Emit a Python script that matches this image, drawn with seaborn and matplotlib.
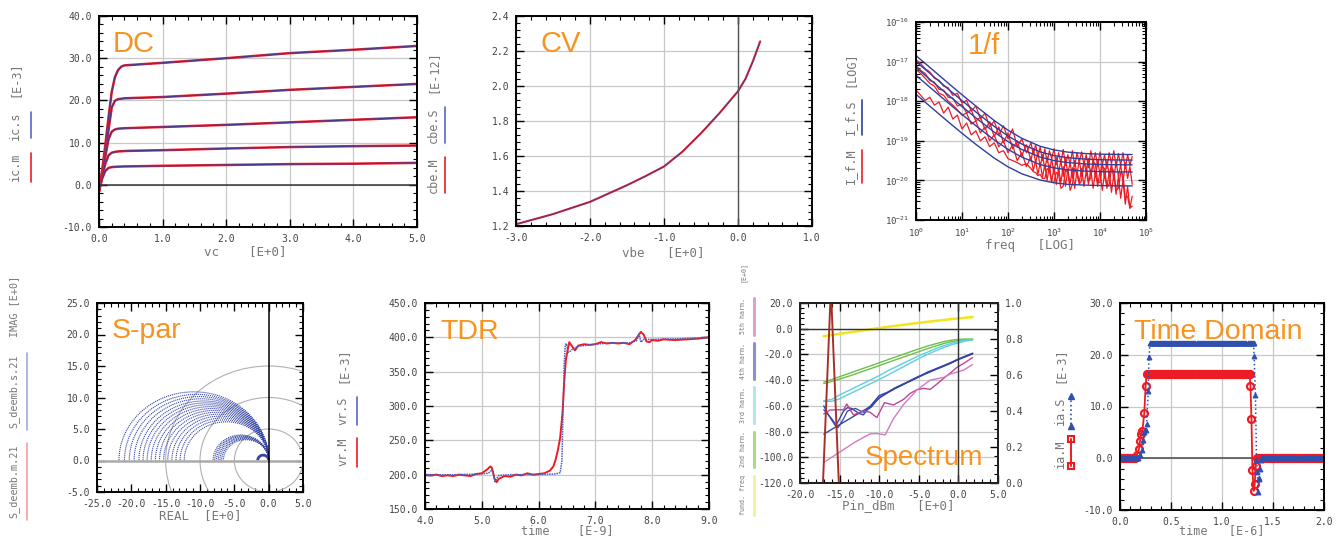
import numpy as np
import matplotlib
matplotlib.use('Agg')
import matplotlib.pyplot as plt
import seaborn as sns
from matplotlib.lines import Line2D
from matplotlib.patches import Arc, Circle
from matplotlib.ticker import MultipleLocator, FormatStrFormatter, LogLocator, LogFormatterSciNotation, NullFormatter

sns.set_theme(style='white')
plt.rcParams['font.family'] = ['DejaVu Sans Mono']
plt.rcParams['mathtext.fontset'] = 'custom'
plt.rcParams['mathtext.rm'] = 'DejaVu Sans Mono'
plt.rcParams['mathtext.default'] = 'regular'

# ---------------- data ----------------
# DC: ic vs vc, five base currents (measured ~ simulated)
vc = [0.0, 0.05, 0.1, 0.15, 0.2, 0.25, 0.3, 0.35, 0.4, 0.5, 1.0, 2.0, 3.0, 4.0, 5.0]
ic_1 = [-1.5, 3.5, 9.5, 16.0, 22.0, 25.5, 27.2, 28.0, 28.3, 28.4, 28.9, 30.0, 31.2, 32.0, 32.9]
ic_2 = [-1.5, 2.8, 7.5, 13.0, 18.3, 19.9, 20.3, 20.4, 20.5, 20.55, 20.8, 21.6, 22.5, 23.2, 23.9]
ic_3 = [-1.5, 2.5, 6.8, 10.8, 12.6, 13.1, 13.3, 13.35, 13.4, 13.45, 13.7, 14.2, 14.8, 15.4, 16.0]
ic_4 = [-1.5, 2.0, 5.0, 7.0, 7.6, 7.8, 7.9, 7.95, 8.0, 8.05, 8.2, 8.6, 8.95, 9.15, 9.3]
ic_5 = [-1.5, 1.5, 3.3, 4.0, 4.2, 4.25, 4.3, 4.32, 4.35, 4.37, 4.5, 4.7, 4.9, 5.0, 5.2]

# CV
vbe = [-3.0, -2.5, -2.0, -1.5, -1.25, -1.0, -0.75, -0.5, -0.25, 0.0, 0.1, 0.2, 0.3]
cbe = [1.21, 1.268, 1.338, 1.433, 1.485, 1.54, 1.625, 1.73, 1.845, 1.97, 2.04, 2.14, 2.255]

# 1/f noise, values are log10 of the noise density
f_fit = [1, 2, 5, 10, 20, 50, 100, 200, 500, 1e3, 2e3, 5e3, 1e4, 2e4, 5e4]
sim_1 = [-16.849, -17.147, -17.543, -17.837, -18.123, -18.486, -18.731, -18.938, -19.138, -19.231, -19.286, -19.323, -19.337, -19.343, -19.347]
sim_2 = [-16.999, -17.297, -17.693, -17.986, -18.272, -18.634, -18.878, -19.083, -19.28, -19.373, -19.428, -19.464, -19.477, -19.483, -19.487]
sim_3 = [-17.148, -17.447, -17.842, -18.135, -18.42, -18.78, -19.02, -19.22, -19.41, -19.50, -19.55, -19.585, -19.598, -19.604, -19.608]
sim_4 = [-17.348, -17.647, -18.042, -18.334, -18.619, -18.977, -19.216, -19.413, -19.60, -19.684, -19.734, -19.767, -19.778, -19.784, -19.788]
sim_5 = [-17.828, -18.126, -18.52, -18.81, -19.09, -19.435, -19.657, -19.834, -19.99, -20.06, -20.10, -20.12, -20.13, -20.136, -20.14]

lf_lo = [0.0, 0.1, 0.2, 0.3, 0.4, 0.5, 0.6, 0.7, 0.8, 0.9, 1.0, 1.1, 1.2, 1.3, 1.4, 1.5,
         1.6, 1.7, 1.8, 1.9, 2.0, 2.1, 2.2, 2.3, 2.4]
lf_hi = [2.5, 2.55, 2.6, 2.65, 2.7, 2.75, 2.8, 2.85, 2.9, 2.95, 3.0, 3.05, 3.1, 3.15, 3.2,
         3.25, 3.3, 3.35, 3.4, 3.45, 3.5, 3.55, 3.6, 3.65, 3.7, 3.75, 3.8, 3.85, 3.9, 3.95,
         4.0, 4.05, 4.1, 4.15, 4.2, 4.25, 4.3, 4.35, 4.4, 4.45, 4.5, 4.55, 4.6, 4.65, 4.7]
meas_1 = [-16.95, -17.05, -17.18, -17.26, -17.42, -17.47, -17.62, -17.66, -17.85, -17.80, -18.05, -17.98,
          -18.25, -18.12, -18.45, -18.30, -18.65, -18.50, -18.85, -18.62, -18.95, -18.70, -19.15, -18.95,
          -19.30,
          -19.05, -19.35, -19.10, -19.40, -19.15, -19.50, -19.20, -19.55, -19.25, -19.45, -19.20, -19.60,
          -19.30, -19.55, -19.22, -19.62, -19.35, -19.58, -19.25, -19.65, -19.30, -19.55, -19.28, -19.60,
          -19.35, -19.68, -19.25, -19.55, -19.30, -19.65, -19.28, -19.60, -19.35, -19.70, -19.30, -19.58,
          -19.25, -19.66, -19.32, -19.62, -19.30, -19.70, -19.35, -19.62, -19.40]
meas_2 = [-17.10, -17.22, -17.30, -17.48, -17.52, -17.70, -17.72, -17.90, -17.92, -18.12, -18.08, -18.30,
          -18.22, -18.50, -18.40, -18.72, -18.52, -18.90, -18.65, -19.05, -18.80, -19.20, -19.00, -19.38,
          -19.10,
          -19.50, -19.20, -19.55, -19.30, -19.65, -19.35, -19.72, -19.40, -19.78, -19.45, -19.85, -19.42,
          -19.80, -19.50, -19.90, -19.45, -19.82, -19.55, -19.95, -19.50, -19.85, -19.48, -19.90, -19.52,
          -19.80, -19.45, -19.88, -19.55, -19.92, -19.50, -19.85, -19.55, -19.95, -19.50, -19.88, -19.58,
          -19.98, -19.52, -19.90, -19.60, -20.05, -19.55, -19.95, -19.65, -20.10]
meas_3 = [-17.20, -17.30, -17.42, -17.55, -17.62, -17.80, -17.85, -18.00, -18.10, -18.22, -18.35, -18.30,
          -18.58, -18.50, -18.80, -18.65, -19.00, -18.85, -19.15, -19.00, -19.30, -19.10, -19.50, -19.30,
          -19.65,
          -19.40, -19.75, -19.50, -19.85, -19.55, -19.92, -19.60, -20.00, -19.62, -20.05, -19.65, -20.10,
          -19.70, -20.05, -19.65, -20.15, -19.72, -20.10, -19.68, -20.20, -19.75, -20.05, -19.70, -20.15,
          -19.78, -20.10, -19.72, -20.20, -19.80, -20.15, -19.75, -20.25, -19.82, -20.20, -19.78, -20.30,
          -19.85, -20.35, -19.90, -20.45, -20.00, -20.60, -20.15, -20.70, -20.40]
meas_4 = [-17.72, -17.85, -17.98, -17.90, -18.10, -18.02, -18.30, -18.15, -18.45, -18.35, -18.70, -18.55,
          -18.85, -18.75, -19.00, -18.90, -19.15, -19.05, -19.30, -19.25, -19.45, -19.50, -19.55, -19.62,
          -19.58,
          -19.70, -19.78, -19.80, -19.88, -19.85, -19.95, -19.95, -19.70, -19.75, -20.05, -20.05, -19.80,
          -19.85, -20.20, -20.15, -19.75, -19.80, -20.25, -20.10, -19.70, -19.85, -20.10, -20.00, -19.55,
          -19.65, -20.00, -19.95, -19.50, -19.60, -20.05, -20.05, -19.65, -19.70, -20.15, -20.10, -19.70,
          -19.75, -20.25, -20.20, -19.80, -19.85, -20.45, -20.40, -20.70, -20.65]

# S-par: S21 loci (diameters of the half circles) and gain circles
s21_big = [21.8, 21.0, 20.3, 19.6, 18.9, 18.3, 17.7, 17.1, 16.5, 15.9, 15.3, 14.7, 14.1, 13.5, 12.9, 12.3]
s21_small = [8.1, 7.85, 7.6, 7.35, 7.1, 6.85, 6.6]
s21_loop = 1.6
gain_radii = [5, 10, 15]

# TDR
t_m = [4.0, 4.1, 4.2, 4.3, 4.4, 4.5, 4.6, 4.7, 4.8, 4.9, 5.0, 5.05, 5.1, 5.15, 5.18, 5.22, 5.26, 5.3,
       5.4, 5.5, 5.6, 5.7, 5.8, 5.9, 6.0, 6.1, 6.2, 6.26, 6.3, 6.34, 6.38, 6.42, 6.45, 6.48, 6.51,
       6.54, 6.58, 6.64, 6.7, 6.8, 6.9, 7.0, 7.1, 7.2, 7.3, 7.4, 7.5, 7.6, 7.7, 7.75, 7.8, 7.85, 7.9,
       7.95, 8.0, 8.1, 8.2, 8.4, 8.6, 8.8, 9.0]
vr_m = [200, 199, 200, 198, 199, 198, 200, 199, 198, 201, 202, 205, 208, 212, 210, 195, 189, 194,
        198, 197, 200, 199, 202, 200, 201, 202, 206, 212, 222, 236, 254, 289, 333, 367, 381,
        393, 388, 381, 388, 390, 389, 390, 393, 391, 392, 391, 392, 390, 396, 402, 408, 404, 394,
        393, 396, 395, 397, 396, 397, 398, 400]
t_s = [4.0, 4.5, 5.0, 5.1, 5.15, 5.18, 5.2, 5.23, 5.3, 5.5, 6.0, 6.3, 6.38, 6.41, 6.43, 6.45, 6.47,
       6.49, 6.52, 6.56, 6.6, 6.7, 6.8, 7.0, 7.3, 7.6, 7.72, 7.75, 7.77, 7.8, 7.85, 8.0, 8.5, 9.0]
vr_s = [200, 200, 201, 202, 204, 208, 203, 190, 199, 200, 200, 201, 203, 220, 290, 360, 389,
        391, 378, 380, 383, 387, 388, 390, 392, 392, 395, 400, 405, 393, 397, 397, 398, 400]

# Spectrum
pin = [-17, -16, -15, -14, -13, -12, -11, -10, -9, -8, -7, -6, -5, -4, -3, -2, -1, 0, 1, 1.8]
fund = [-5.8, -4.9, -4.0, -3.1, -2.2, -1.3, -0.4, 0.5, 1.4, 2.2, 3.0, 3.8, 4.6, 5.3, 6.0, 6.7, 7.4, 8.0, 8.6, 9.1]
h2_a = [-41.5, -39.5, -37.3, -35.2, -33.0, -30.8, -28.7, -26.5, -24.3, -22.1, -20.0, -17.8, -15.7, -13.7, -11.9, -10.3, -9.0, -8.3, -8.0, -8.0]
h2_b = [-42.7, -41.0, -39.1, -37.2, -35.2, -33.0, -30.9, -28.7, -26.5, -24.3, -22.2, -20.0, -17.9, -15.7, -13.7, -11.8, -10.2, -9.2, -8.7, -8.6]
h3_a = [-56.0, -55.0, -51.5, -48.5, -45.5, -42.5, -39.5, -36.5, -33.0, -30.0, -27.0, -24.0, -21.0, -18.5, -15.8, -13.5, -11.6, -10.0, -8.8, -8.2]
h3_b = [-56.5, -56.5, -54.5, -51.5, -48.5, -45.5, -42.5, -39.5, -36.3, -33.0, -29.8, -26.5, -23.2, -20.2, -17.5, -15.0, -12.8, -11.0, -9.5, -8.6]
h4_s = [-82.0, -78.3, -74.6, -71.0, -67.3, -63.7, -60.0, -54.0, -50.0, -46.5, -43.5, -40.0, -37.0, -34.5, -32.0, -29.5, -27.0, -24.0, -21.5, -19.3]
pin_h4a = [-17, -16.5, -16, -15.5, -15, -14.5, -14, -13.5, -13, -12.5, -12, -11.5, -11, -10, -9, -8, -7, -6, -5, -4, -3, -2, -1, 0, 1, 1.8]
h4_a = [-60, -66, -71, -75.6, -70, -64, -61.4, -62, -64, -66, -67, -63, -59.3, -52, -49.5, -46, -43, -40.5, -37.5, -34, -31.5, -29, -26.5, -23.5, -21, -19.0]
pin_h4b = [-17, -16, -15.2, -14.5, -14, -13, -12, -11, -10, -9, -8, -7, -6, -5, -4, -3, -2, -1, 0, 1, 1.8]
h4_b = [-63, -70, -77, -70, -64, -62, -65, -61, -53.5, -50, -46.5, -43.5, -40.5, -37.5, -34.8, -32, -29.5, -26.5, -23.8, -21.5, -19.6]
pin_h5a = [-17, -16.2, -14.5, -14.1, -13.25, -12, -11.15, -10.3, -9.33, -8.2, -6.93, -6.09, -5.25, -4.4, -3.56, -2.7, -1.87, -1.03, -0.19, 0.66, 1.8]
h5_a = [-66.3, -63.2, -63.0, -58.5, -67.1, -64.0, -65.0, -69.1, -57.5, -59.3, -55.0, -50.3, -47.5, -46.4, -47.2, -43.0, -38.6, -34.5, -30.1, -27.0, -22.4]
pin_h5b = [-17, -15, -13, -11.15, -10.3, -9.25, -8.2, -6.93, -5.25, -3.56, -1.87, -1.03, 0.66, 1.8]
h5_b = [-104, -96, -88, -81.8, -81.5, -82.6, -70, -59, -47.7, -40, -37.9, -35.3, -32.2, -27.8]
pin_pk = [-17.1, -16.1, -15.1, 1.8]
pk = [0.0, 1.08, 0.0, 0.0]

# Time domain current pulse
ia_base = 0.0
ia_top_m = 16.3
ia_top_s = 22.2
rise_t_m = [0.163, 0.186, 0.196, 0.206, 0.219, 0.238, 0.251, 0.261]
rise_m = [0.6, 1.7, 3.3, 4.7, 5.2, 8.7, 14.0, 16.2]
fall_t_m = [1.279, 1.289, 1.298, 1.311, 1.321, 1.33, 1.34]
fall_m = [14.0, 7.5, -2.2, -6.3, -4.9, -1.5, 0.0]
rise_t_s = [0.196, 0.219, 0.228, 0.238, 0.251, 0.261, 0.277, 0.284, 0.294]
rise_s = [0.6, 1.6, 3.6, 5.1, 5.4, 6.7, 13.0, 19.5, 22.2]
fall_t_s = [1.315, 1.328, 1.338, 1.347, 1.352, 1.358, 1.364, 1.37, 1.38, 1.39]
fall_s = [19.7, 12.2, -0.4, -2.6, -6.5, -4.0, -3.8, -2.0, -0.3, 0.3]

RED = '#ed1c24'
BLUE = '#2f3f9f'
ORANGE = '#f7931e'
LBL = '#777777'

W, H = 1340, 538
fig = plt.figure(figsize=(W / 100, H / 100), dpi=100, facecolor='white')


def box(l, t, r, b):
    return [l / W, 1 - b / H, (r - l) / W, (b - t) / H]


def frame(ax, xmaj=None, xmin=None, ymaj=None, ymin=None, fmt='%.1f', grid=True):
    if xmaj:
        ax.xaxis.set_major_locator(MultipleLocator(xmaj))
        ax.xaxis.set_minor_locator(MultipleLocator(xmin))
        ax.xaxis.set_major_formatter(FormatStrFormatter(fmt))
    if ymaj:
        ax.yaxis.set_major_locator(MultipleLocator(ymaj))
        ax.yaxis.set_minor_locator(MultipleLocator(ymin))
        ax.yaxis.set_major_formatter(FormatStrFormatter(fmt))
    ax.tick_params(which='both', direction='in', top=True, right=True, bottom=True, left=True,
                   colors='black', labelcolor='#444444', labelsize=7, pad=5)
    ax.tick_params(which='major', length=6, width=1)
    ax.tick_params(which='minor', length=3, width=0.8)
    for s in ax.spines.values():
        s.set_linewidth(1.4)
        s.set_color('black')
    if grid:
        ax.grid(True, which='major', color='#c8c8c8', lw=0.9)
    ax.set_axisbelow(True)
    ax.set(xlabel='', ylabel='')


def vtext(x, y, s, size=8.5, color=LBL):
    fig.text(x / W, 1 - y / H, s, rotation=90, ha='center', va='center', fontsize=size, color=color)


def vline(x, y1, y2, color, **kw):
    fig.add_artist(Line2D([x / W, x / W], [1 - y1 / H, 1 - y2 / H], color=color,
                          transform=fig.transFigure, **kw))


def title(x, y, s, size=21):
    fig.text(x / W, 1 - y / H, s, ha='left', va='baseline', fontsize=size, color=ORANGE,
             family='Liberation Sans')


def xtext(x, y, s, size=9):
    fig.text(x / W, 1 - y / H, s, ha='center', va='center', fontsize=size, color=LBL)


def line(ax, x, y, color, lw=1.0, **kw):
    sns.lineplot(x=x, y=y, ax=ax, color=color, lw=lw, sort=False, estimator=None, legend=False, **kw)


# ---------------- DC ----------------
ax = fig.add_axes(box(99, 16, 417, 227))
for ic in [ic_1, ic_2, ic_3, ic_4, ic_5]:
    line(ax, vc, ic, RED, lw=1.8)
    line(ax, vc, ic, BLUE, lw=0.9, alpha=0.85)
ax.axhline(0, color='#333333', lw=1.1)
ax.set_xlim(0, 5)
ax.set_ylim(-10, 40)
frame(ax, 1.0, 0.2, 10, 2)
title(113, 52, 'DC')
xtext(245, 252, 'vc    [E+0]')
vtext(15, 79, '[E-3]')
vtext(15, 126, 'ic.s')
vtext(15, 167, 'ic.m')
vline(31, 112, 138, '#5a66c8', lw=1.2)
vline(31, 153, 182, RED, lw=1.2)

# ---------------- CV ----------------
ax = fig.add_axes(box(516, 16, 812, 226))
line(ax, vbe, cbe, RED, lw=1.5)
line(ax, vbe, cbe, BLUE, lw=0.7, alpha=0.8)
ax.axvline(0, color='#555555', lw=1.0)
ax.set_xlim(-3, 1)
ax.set_ylim(1.2, 2.4)
frame(ax, 1.0, 0.2, 0.2, 0.04)
title(540, 52, 'CV')
xtext(663, 253, 'vbe   [E+0]')
vtext(433, 72, '[E-12]')
vtext(433, 125, 'cbe.S')
vtext(433, 175, 'cbe.M')
vline(445, 107, 143, '#5a66c8', lw=1.2)
vline(445, 157, 193, RED, lw=1.2)

# ---------------- 1/f ----------------
ax = fig.add_axes(box(916, 22, 1146, 220))
ax.set_xscale('log')
ax.set_yscale('log')
fm = 10.0 ** np.array(lf_lo + lf_hi)
for m in [meas_1, meas_2, meas_3, meas_4]:
    line(ax, fm, 10.0 ** np.array(m), RED, lw=0.9)
for s in [sim_1, sim_2, sim_3, sim_4, sim_5]:
    line(ax, f_fit, 10.0 ** np.array(s), BLUE, lw=1.0)
ax.set_xlim(1, 1e5)
ax.set_ylim(1e-21, 1e-16)
frame(ax)
ax.tick_params(labelsize=6.5)
for a in [ax.xaxis, ax.yaxis]:
    a.set_major_locator(LogLocator(base=10, numticks=10))
    a.set_minor_locator(LogLocator(base=10, subs=np.arange(2, 10), numticks=10))
    a.set_major_formatter(LogFormatterSciNotation())
    a.set_minor_formatter(NullFormatter())
title(968, 54, '1/f')
xtext(1030, 245, 'freq   [LOG]')
vtext(850, 69, '[LOG]')
vtext(850, 117, 'I_f.S')
vtext(850, 166, 'I_f.M')
vline(862, 100, 135, BLUE, lw=1.2)
vline(862, 150, 183, RED, lw=1.2)

# ---------------- S-par ----------------
ax = fig.add_axes(box(97, 303, 303, 492))
for r in gain_radii:
    ax.add_patch(Circle((0, 0), r, fill=False, color='#b0b0b0', lw=0.8))
ax.axhline(0, color='#aaaaaa', lw=1.8)
ax.axvline(0, color='black', lw=1.1)
for d in s21_big + s21_small:
    ax.add_patch(Arc((-d / 2, 0), d, d, theta1=0, theta2=180, color='#3545a5', lw=0.8, ls=(0, (1, 0.8))))
ax.add_patch(Arc((-s21_loop / 2, 0), s21_loop, 1.7, theta1=0, theta2=180, color='#3545a5', lw=2.0))
ax.set_xlim(-25, 5)
ax.set_ylim(-5, 25)
frame(ax, 5, 1, 5, 1, grid=False)
title(112, 338, 'S-par', size=20.5)
xtext(200, 516, 'REAL  [E+0]')
vtext(14, 306, 'IMAG [E+0]', size=7.3)
vtext(14, 391, 'S_deemb.s.21', size=7.3)
vtext(14, 481, 'S_deemb.m.21', size=7.3)
vline(27, 353, 430, '#a0a8dc', lw=1.2)
vline(27, 443, 520, '#f3a0a0', lw=1.2)

# ---------------- TDR ----------------
ax = fig.add_axes(box(425, 303, 709, 509))
line(ax, t_m, vr_m, RED, lw=1.4)
line(ax, t_s, vr_s, '#4a5bbf', lw=1.1, ls=(0, (1, 0.6)))
ax.set_xlim(4, 9)
ax.set_ylim(150, 450)
frame(ax, 1.0, 0.2, 50, 10)
title(440, 339, 'TDR', size=20.5)
xtext(567, 531, 'time    [E-9]', size=8.5)
vtext(343, 365, '[E-3]')
vtext(343, 411, 'vr.S')
vtext(343, 452, 'vr.M')
vline(357, 397, 425, '#5a66c8', lw=1.2)
vline(357, 438, 467, RED, lw=1.2)

# ---------------- Spectrum ----------------
ax = fig.add_axes(box(800, 303, 998, 483))
ax2 = ax.twinx()
line(ax2, pin_pk, pk, '#a8302a', lw=1.4)
ax2.set_ylim(0, 1)
line(ax, pin, fund, '#f2e51c', lw=1.8)
line(ax, pin, h2_a, '#6cc04a', lw=1.0)
line(ax, pin, h2_b, '#6cc04a', lw=1.0)
line(ax, pin, h3_a, '#5fcfe0', lw=1.0)
line(ax, pin, h3_b, '#5fcfe0', lw=1.0)
line(ax, pin, h4_s, '#3545a5', lw=1.0)
line(ax, pin_h4a, h4_a, '#3545a5', lw=1.0)
line(ax, pin_h4b, h4_b, '#3545a5', lw=0.9)
line(ax, pin_h5a, h5_a, '#c0449a', lw=1.0)
line(ax, pin_h5b, h5_b, '#d27ac4', lw=1.0)
ax.axhline(0, color='#333333', lw=1.0)
ax.axvline(0, color='#333333', lw=1.0)
ax.set_xlim(-20, 5)
ax.set_ylim(-120, 20)
frame(ax, 5, 1, 20, 4)
ax.tick_params(which='both', right=False)
ax2.yaxis.set_major_locator(MultipleLocator(0.2))
ax2.yaxis.set_minor_locator(MultipleLocator(0.05))
ax2.yaxis.set_major_formatter(FormatStrFormatter('%.1f'))
ax2.tick_params(which='both', direction='in', colors='black', labelcolor='#444444', labelsize=7, pad=5)
ax2.tick_params(which='major', length=6, width=1)
ax2.tick_params(which='minor', length=3, width=0.8)
ax2.grid(False)
ax2.set(ylabel='')
title(865, 465, 'Spectrum', size=20)
xtext(898, 506, 'Pin_dBm   [E+0]')
vtext(743, 272, '[E+0]', size=4.8)
vtext(743, 316, '5th harm.', size=4.8)
vtext(743, 361, '4th harm.', size=4.8)
vtext(743, 405, '3rd harm.', size=4.8)
vtext(743, 449, '2nd harm.', size=4.8)
vtext(743, 495, 'fund. freq', size=4.8)
vline(754, 298, 335, '#dca0d6', lw=2.2)
vline(754, 343, 379, '#8a90cc', lw=2.2)
vline(754, 387, 423, '#b2e6ee', lw=2.2)
vline(754, 432, 467, '#a8dc88', lw=2.2)
vline(754, 476, 515, '#f6f29a', lw=2.2)

# ---------------- Time Domain ----------------
ax = fig.add_axes(box(1120, 303, 1324, 510))
tm = np.concatenate([np.arange(0.0, 0.155, 0.01), rise_t_m, np.arange(0.27, 1.275, 0.01),
                     fall_t_m, np.arange(1.35, 2.005, 0.01)])
im = np.concatenate([np.full(16, ia_base), rise_m, np.full(101, ia_top_m), fall_m, np.full(66, ia_base)])
ts = np.concatenate([np.arange(0.0, 0.185, 0.01), rise_t_s, np.arange(0.30, 1.315, 0.01),
                     fall_t_s, np.arange(1.40, 2.005, 0.01)])
is_ = np.concatenate([np.full(19, ia_base), rise_s, np.full(102, ia_top_s), fall_s, np.full(61, ia_base)])
ax.axhline(0, color='#555555', lw=1.2)
line(ax, tm, im, RED, lw=1.3, marker='o', ms=5, mfc='none', mec=RED, mew=1.6)
line(ax, ts, is_, '#3050b0', lw=1.1, ls=':', marker='^', ms=3.5, mec='#3050b0', mfc='#3050b0')
ax.set_xlim(0, 2)
ax.set_ylim(-10, 30)
frame(ax, 0.5, 0.1, 10, 2)
title(1134, 339, 'Time Domain', size=20.5)
xtext(1222, 531, 'time   [E-6]', size=8.5)
vtext(1060, 365, '[E-3]')
vtext(1060, 411, 'ia.S')
vtext(1060, 454, 'ia.M')
vline(1071, 396, 426, '#3050b0', lw=1.2, ls=':', marker='^', ms=4, mfc='#3050b0', mec='#3050b0')
vline(1071, 439, 466, RED, lw=1.4, marker='s', ms=4, mfc='none', mec=RED, mew=1.5)

fig.savefig('out.png', dpi=100, facecolor='white')
